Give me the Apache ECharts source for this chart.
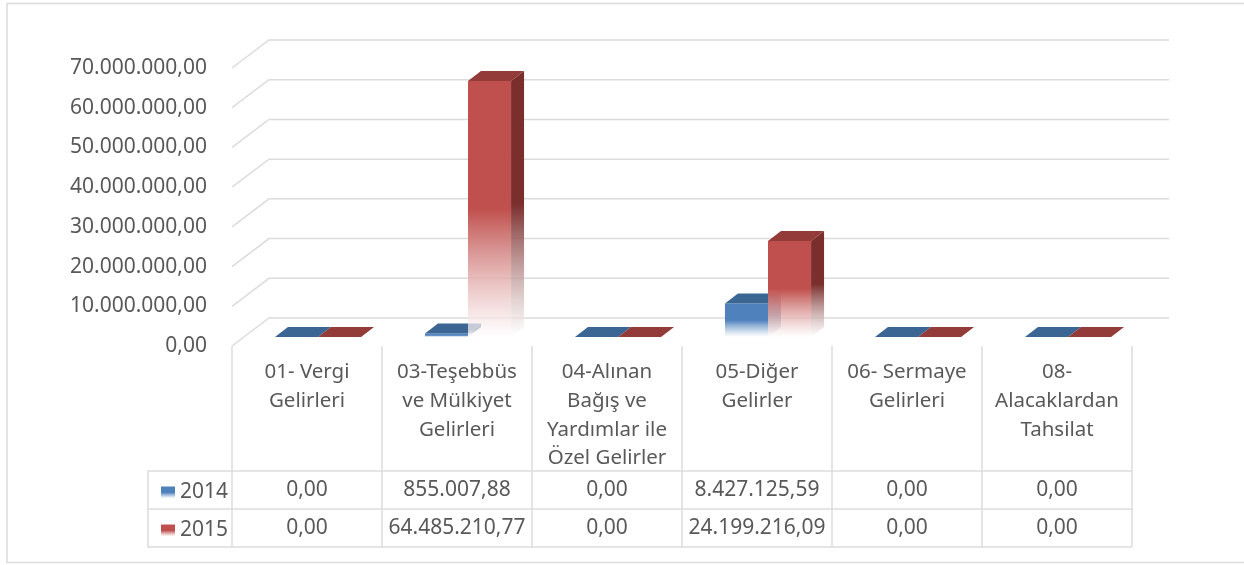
<!DOCTYPE html>
<html>
<head>
<meta charset="utf-8">
<script src="https://cdn.jsdelivr.net/npm/echarts@6/dist/echarts.min.js"></script>
<style>
  html, body { margin: 0; padding: 0; background: #fff; }
  #chart { width: 1244px; height: 565px; }
</style>
</head>
<body>
<div id="chart"></div>
<script>
// kategoriler (tablo başlığı)
const categories = [
  '01- Vergi\nGelirleri',
  '03-Teşebbüs\nve Mülkiyet\nGelirleri',
  '04-Alınan\nBağış ve\nYardımlar ile\nÖzel Gelirler',
  '05-Diğer\nGelirler',
  '06- Sermaye\nGelirleri',
  '08-\nAlacaklardan\nTahsilat'
]
const years = ['2014', '2015']
const values2014 = [0, 855007.88, 0, 8427125.59, 0, 0]
const values2015 = [0, 64485210.77, 0, 24199216.09, 0, 0]
const yTicks = [0, 10000000, 20000000, 30000000, 40000000, 50000000, 60000000, 70000000]

const FONT = 'Noto Sans'
const FS = 21        // sayılar
const FS_CAT = 20.5  // kategori metni
const TXT = '#595959'
const LINE = '#dcdcdc'

// 3B görünüm için kaydırmalar
const WALL = [37, -28]
const FRONT = [11, -9]
const DEPTH = [13, -10]

function fmt(v) {
  const [i, d] = v.toFixed(2).split('.')
  return i.replace(/\B(?=(\d{3})+(?!\d))/g, '.') + ',' + d
}

const palette = [
  { front: '#4f81bd', top: '#3b6694', side: '#335a84' },
  { front: '#c0504d', top: '#923b38', side: '#7a2f2d' }
]

function fade(c) {
  return new echarts.graphic.LinearGradient(0, 0, 0, 1, [
    { offset: 0, color: c },
    { offset: 0.5, color: c },
    { offset: 1, color: 'rgba(255,255,255,0.7)' }
  ])
}

function barRenderer(s) {
  const col = palette[s]
  return function (params, api) {
    const i = api.value(0)
    const v = api.value(1)
    const base = api.coord([i, 0])
    const top = api.coord([i, v])
    const w = api.size([1, 0])[0] * 0.287
    const x0 = base[0] + FRONT[0] - (s === 0 ? w : 0)
    const yB = base[1] + FRONT[1]
    const yT = top[1] + FRONT[1]
    const children = []
    if (yB - yT > 0.5) {
      children.push({
        type: 'polygon',
        shape: { points: [[x0 + w, yT], [x0 + w + DEPTH[0], yT + DEPTH[1]], [x0 + w + DEPTH[0], yB + DEPTH[1]], [x0 + w, yB]] },
        style: { fill: fade(col.side) }
      })
      children.push({
        type: 'rect',
        shape: { x: x0, y: yT, width: w, height: yB - yT },
        style: { fill: fade(col.front) }
      })
    }
    children.push({
      type: 'polygon',
      shape: { points: [[x0, yT], [x0 + w, yT], [x0 + w + DEPTH[0], yT + DEPTH[1]], [x0 + DEPTH[0], yT + DEPTH[1]]] },
      style: { fill: col.top }
    })
    return { type: 'group', children }
  }
}

function wallRenderer(params, api) {
  const cs = params.coordSys
  const y = api.coord([0, api.value(1)])[1]
  const gx = cs.x
  return {
    type: 'polyline',
    shape: { points: [[gx, y], [gx + WALL[0], y + WALL[1]], [gx + cs.width + WALL[0], y + WALL[1]]] },
    style: { stroke: LINE, lineWidth: 1.5, fill: null },
    silent: true
  }
}

const rowY = [471, 509, 547]
const rowMid = [490, 528]

function tableRenderer(params, api) {
  const i = api.value(0)
  const c = api.coord([i, 0])
  const half = api.size([1, 0])[0] / 2
  const xl = c[0] - half
  const xr = c[0] + half
  const children = []
  const ln = (x1, y1, x2, y2) => ({
    type: 'line',
    shape: { x1, y1, x2, y2 },
    style: { stroke: LINE, lineWidth: 1.5 }
  })
  if (i === 0) children.push(ln(xl, c[1], xl, rowY[2]))
  children.push(ln(xr, c[1], xr, rowY[2]))
  rowY.forEach(y => children.push(ln(xl, y, xr, y)))
  const vals = [values2014[i], values2015[i]]
  vals.forEach((v, k) => {
    children.push({
      type: 'text',
      style: {
        x: c[0], y: rowMid[k], text: fmt(v),
        align: 'center', verticalAlign: 'middle',
        fill: TXT, font: FS + 'px "' + FONT + '"'
      }
    })
  })
  return { type: 'group', children }
}

const chart = echarts.init(document.getElementById('chart'))
chart.setOption({
  animation: false,
  backgroundColor: '#fff',
  textStyle: { fontFamily: FONT },
  grid: { left: 232, right: 112, top: 68, bottom: 219 },
  legend: {
    orient: 'vertical',
    left: 156,
    top: 477,
    icon: 'rect',
    itemWidth: 14,
    itemHeight: 12,
    itemGap: 17,
    selectedMode: false,
    data: years,
    textStyle: { color: TXT, fontSize: FS, lineHeight: 21, fontFamily: FONT }
  },
  xAxis: {
    type: 'category',
    data: categories,
    axisLine: { show: false },
    axisTick: { show: false },
    splitLine: { show: false },
    axisLabel: {
      interval: 0,
      margin: 12,
      color: TXT,
      fontSize: FS_CAT,
      lineHeight: 28.7,
      fontFamily: FONT
    }
  },
  yAxis: {
    type: 'value',
    min: 0,
    max: 70000000,
    interval: 10000000,
    axisLine: { show: false },
    axisTick: { show: false },
    splitLine: { show: false },
    axisLabel: {
      margin: 25,
      color: TXT,
      fontSize: FS,
      fontFamily: FONT,
      formatter: v => fmt(v)
    }
  },
  graphic: [
    {
      type: 'rect',
      shape: { x: 7, y: 3.5, width: 1250, height: 559 },
      style: { fill: null, stroke: LINE, lineWidth: 1.5 },
      silent: true
    },
    {
      type: 'polyline',
      shape: { points: [[232, rowY[0]], [148, rowY[0]], [148, rowY[2]], [232, rowY[2]]] },
      style: { fill: null, stroke: LINE, lineWidth: 1.5 },
      silent: true
    },
    {
      type: 'line',
      shape: { x1: 148, y1: rowY[1], x2: 232, y2: rowY[1] },
      style: { stroke: LINE, lineWidth: 1.5 },
      silent: true
    }
  ],
  series: [
    {
      type: 'custom',
      name: 'wall',
      renderItem: wallRenderer,
      data: yTicks.map(v => [0, v]),
      silent: true,
      z: 1
    },
    {
      type: 'custom',
      name: 'table',
      renderItem: tableRenderer,
      data: categories.map((c, i) => [i, 0]),
      silent: true,
      z: 1
    },
    {
      type: 'custom',
      name: years[0],
      renderItem: barRenderer(0),
      itemStyle: { color: fade(palette[0].front) },
      data: values2014.map((v, i) => [i, v]),
      z: 3
    },
    {
      type: 'custom',
      name: years[1],
      renderItem: barRenderer(1),
      itemStyle: { color: fade(palette[1].front) },
      data: values2015.map((v, i) => [i, v]),
      z: 4
    }
  ]
})
</script>
</body>
</html>
